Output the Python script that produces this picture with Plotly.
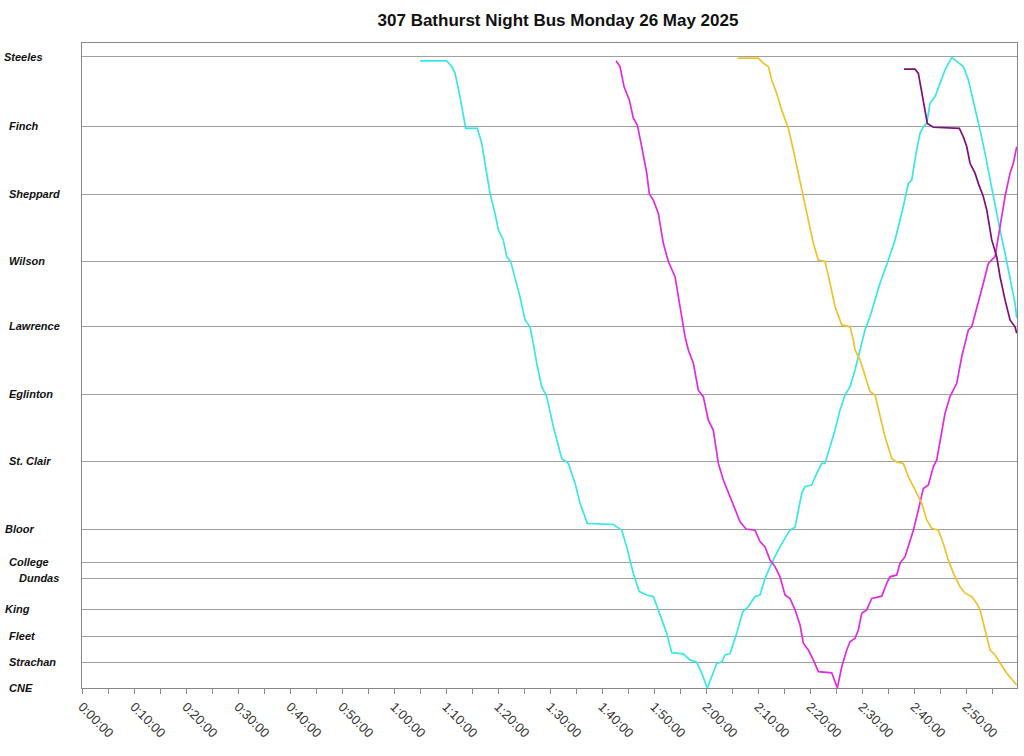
import plotly.graph_objects as go

# Stops: distance from CNE (km)
stop_names = ["Steeles", "Finch", "Sheppard", "Wilson", "Lawrence", "Eglinton", "St. Clair",
              "Bloor", "College", "Dundas", "King", "Fleet", "Strachan", "CNE"]
stop_dist = [16.64, 14.80, 13.01, 11.25, 9.54, 7.74, 5.98, 4.18, 3.31, 2.89, 2.07, 1.37, 0.68, 0.0]

# Time axis ticks (minutes after midnight)
tick_minutes = [0, 10, 20, 30, 40, 50, 60, 70, 80, 90, 100, 110, 120, 130, 140, 150, 160, 170]
tick_labels = ["0:00:00", "0:10:00", "0:20:00", "0:30:00", "0:40:00", "0:50:00", "1:00:00",
               "1:10:00", "1:20:00", "1:30:00", "1:40:00", "1:50:00", "2:00:00", "2:10:00",
               "2:20:00", "2:30:00", "2:40:00", "2:50:00"]

# Bus 1 (cyan): minutes, distance
cyan_t = [65.0, 70.13, 71.10, 71.73, 72.56, 73.33, 73.79, 76.02, 76.87, 77.50, 77.94, 78.46, 79.42,
          80.06, 81.02, 81.67, 82.44, 83.27, 84.23, 85.19, 86.15, 86.67, 87.44, 88.40, 89.37, 90.63,
          92.25, 93.52, 94.81, 95.77, 97.17, 102.17, 103.79, 104.75, 106.02, 107.17, 108.60, 109.87,
          110.83, 111.79, 112.44, 113.40, 115.63, 116.92, 118.21, 119.17, 120.25,
          122.06, 123.02, 123.65, 124.62, 125.90, 127.06, 128.13, 129.42, 130.38, 131.35, 132.63,
          133.90, 135.19, 136.15, 137.12, 138.40, 139.04, 140.33, 141.29, 142.25, 142.88, 143.85,
          144.81, 145.77, 146.73, 147.69, 148.65, 149.62, 150.58, 151.54, 153.46, 155.06, 156.35,
          157.94, 158.90, 159.56, 160.38, 161.15, 161.79, 162.44, 163.08, 164.04, 165.00, 165.96,
          167.25,
          168.21, 169.48, 170.44, 171.73, 172.69, 173.65, 174.62, 175.58, 176.54, 177.50, 178.46,
          179.42, 179.75]
cyan_d = [16.53, 16.53, 16.38, 16.21, 15.67, 15.06, 14.75, 14.75, 14.36, 13.83, 13.48, 13.04, 12.51,
          12.07, 11.81, 11.37, 11.24, 10.84, 10.31, 9.70, 9.52, 9.17, 8.56, 7.94, 7.68, 6.89,
          6.05, 5.92, 5.40, 4.87, 4.34, 4.31, 4.16, 3.72, 3.02, 2.54, 2.45, 2.41,
          2.06, 1.71, 1.44, 0.93, 0.90, 0.74, 0.68, 0.39, 0.0,
          0.65, 0.69, 0.87, 0.91, 1.44, 2.01, 2.14, 2.41, 2.45, 2.89, 3.29,
          3.64, 3.95, 4.16, 4.24, 5.13, 5.31, 5.35, 5.66, 5.92, 5.92, 6.36,
          6.80, 7.33, 7.72, 7.94, 8.38, 8.91, 9.44, 9.79, 10.67, 11.28, 11.81,
          12.69, 13.30, 13.39, 14.09, 14.62, 14.79, 14.88, 15.41, 15.59, 15.94, 16.29,
          16.62,
          16.51, 16.38, 16.03, 15.32, 14.71, 14.09, 13.39, 12.78, 12.07, 11.46, 10.75,
          10.14, 9.75]

# Bus 2 (magenta)
magenta_t = [102.69, 103.46, 104.23, 105.25, 106.02, 106.79, 107.63, 108.60, 109.10, 109.87, 110.83,
             111.79, 112.75, 114.04, 115.00, 115.96, 116.60, 117.56, 118.52, 119.48, 120.44, 121.40,
             122.37, 123.33, 124.62, 125.58, 126.54, 127.69, 129.42, 130.38, 131.35, 132.31, 133.27,
             134.23, 135.19, 136.15, 137.12, 138.08, 138.71, 139.67, 140.63, 141.60, 144.17, 145.25,
             146.10, 147.06, 147.69, 148.65, 149.29, 149.94, 150.90, 151.87, 153.79, 154.75, 155.38,
             156.67, 157.31, 158.27, 159.23, 159.87, 160.83, 161.79, 162.75, 163.71, 164.37, 165.00,
             165.96, 166.92, 168.21, 169.17, 169.81, 170.44, 171.10, 172.06, 173.33, 174.29, 175.58,
             176.54, 177.50, 178.46, 179.10, 179.75]
magenta_d = [16.53, 16.38, 15.85, 15.50, 15.02, 14.84, 14.27, 13.57, 13.02, 12.86, 12.51,
             11.72, 11.24, 10.84, 10.05, 9.26, 8.91, 8.56, 7.85, 7.68, 7.06, 6.80,
             5.92, 5.48, 5.04, 4.69, 4.38, 4.19, 4.16, 3.86, 3.72, 3.37, 3.20,
             2.93, 2.45, 2.36, 2.06, 1.66, 1.18, 1.00, 0.74, 0.43, 0.40, 0.0,
             0.56, 1.00, 1.22, 1.31, 1.53, 1.97, 2.06, 2.36, 2.42, 2.76, 2.93,
             2.98, 3.29, 3.46, 3.90, 4.16, 4.69, 5.26, 5.35, 5.83, 6.01, 6.54,
             7.24, 7.68, 8.03, 8.73, 9.09, 9.44, 9.52, 10.05, 10.67, 11.19, 11.37,
             12.16, 12.95, 13.57, 13.83, 14.27]

# Bus 3 (gold)
gold_t = [126.10, 130.06, 131.02, 131.98, 132.63, 133.60, 134.56, 135.83, 136.79, 137.75, 138.71,
          139.67, 140.63, 141.60, 142.88, 143.85, 144.81, 146.10, 147.69, 148.33, 148.65, 149.62,
          150.58, 151.54, 152.50, 153.46, 154.42, 155.71, 156.67, 157.94, 158.90, 160.19, 161.48,
          162.44, 163.40, 164.67, 165.63, 166.60, 167.56, 168.85, 169.81, 171.10, 172.06, 172.69,
          173.65, 174.62, 175.58, 176.54, 177.83, 179.75]
gold_d = [16.60, 16.60, 16.47, 16.38, 16.03, 15.67, 15.23, 14.75, 14.18, 13.57, 13.02,
          12.34, 11.72, 11.28, 11.24, 10.67, 10.05, 9.57, 9.52, 9.17, 8.91, 8.65,
          8.21, 7.81, 7.72, 7.15, 6.62, 6.05, 5.96, 5.92, 5.57, 5.22, 4.87,
          4.43, 4.21, 4.16, 3.81, 3.37, 3.02, 2.67, 2.50, 2.41, 2.23, 2.06,
          1.53, 1.00, 0.87, 0.65, 0.39, 0.08]

# Bus 4 (purple)
purple_t = [158.08, 160.19, 160.83, 161.48, 162.12, 162.56, 163.71, 168.71, 169.48, 170.13, 170.77,
            171.73, 172.37, 173.33, 173.98, 174.94, 175.90, 176.54, 177.50, 178.46, 179.42, 179.75]
purple_d = [16.31, 16.31, 16.20, 15.67, 15.15, 14.88, 14.78, 14.75, 14.53, 14.27, 13.83,
            13.57, 13.30, 12.95, 12.60, 11.81, 11.37, 10.84, 10.23, 9.70, 9.52, 9.35]

series = [
    (cyan_t, cyan_d, "#3AE6E6"),
    (magenta_t, magenta_d, "#E02BE0"),
    (gold_t, gold_d, "#EEC22E"),
    (purple_t, purple_d, "#7B0F7B"),
]

fig = go.Figure()
for t, d, c in series:
    fig.add_trace(go.Scatter(x=t, y=d, mode="lines", line=dict(color=c, width=1.7),
                             showlegend=False, hoverinfo="skip"))

W, H = 1024, 756
L, R, T, B = 82, 7, 43, 68
pw = W - L - R

label_x_px = [2, 7, 7, 7, 7, 7, 7, 3, 7, 17, 3, 7, 7, 7]
for name, d, px in zip(stop_names, stop_dist, label_x_px):
    fig.add_annotation(x=(px - L) / pw, xref="paper", y=d, yref="y", text=f"<b><i>{name}</i></b>",
                       showarrow=False, xanchor="left", yanchor="middle",
                       font=dict(family="Liberation Sans, Arial, sans-serif", size=11, color="#111"))

fig.update_layout(
    width=W, height=H,
    margin=dict(l=L, r=R, t=T, b=B),
    paper_bgcolor="white", plot_bgcolor="white",
    title=dict(text="<b>307 Bathurst Night Bus Monday 26 May 2025</b>",
               x=558 / W, xref="container", xanchor="center",
               y=1 - 20 / H, yref="container", yanchor="middle",
               font=dict(family="Liberation Sans, Arial, sans-serif", size=17, color="#111")),
    xaxis=dict(range=[0, 179.8], tickvals=tick_minutes, ticktext=tick_labels, tickangle=45,
               ticks="outside", ticklen=5, tickcolor="#888", showgrid=False, zeroline=False,
               showline=True, linecolor="#888", linewidth=1, mirror=True,
               minor=dict(dtick=5, tick0=0, ticks="outside", ticklen=5, tickcolor="#888", showgrid=False),
               tickfont=dict(family="Liberation Sans, Arial, sans-serif", size=13, color="#333")),
    yaxis=dict(range=[0, 17.0], tickvals=stop_dist, showticklabels=False, ticks="",
               showgrid=True, gridcolor="#a0a0a0", gridwidth=1, zeroline=False,
               showline=True, linecolor="#888", linewidth=1, mirror=True),
)

# remove the default page margin so the figure fills the window exactly
fig.write_html("out.html", config={"displayModeBar": False},
               post_script="document.body.style.margin='0';")
